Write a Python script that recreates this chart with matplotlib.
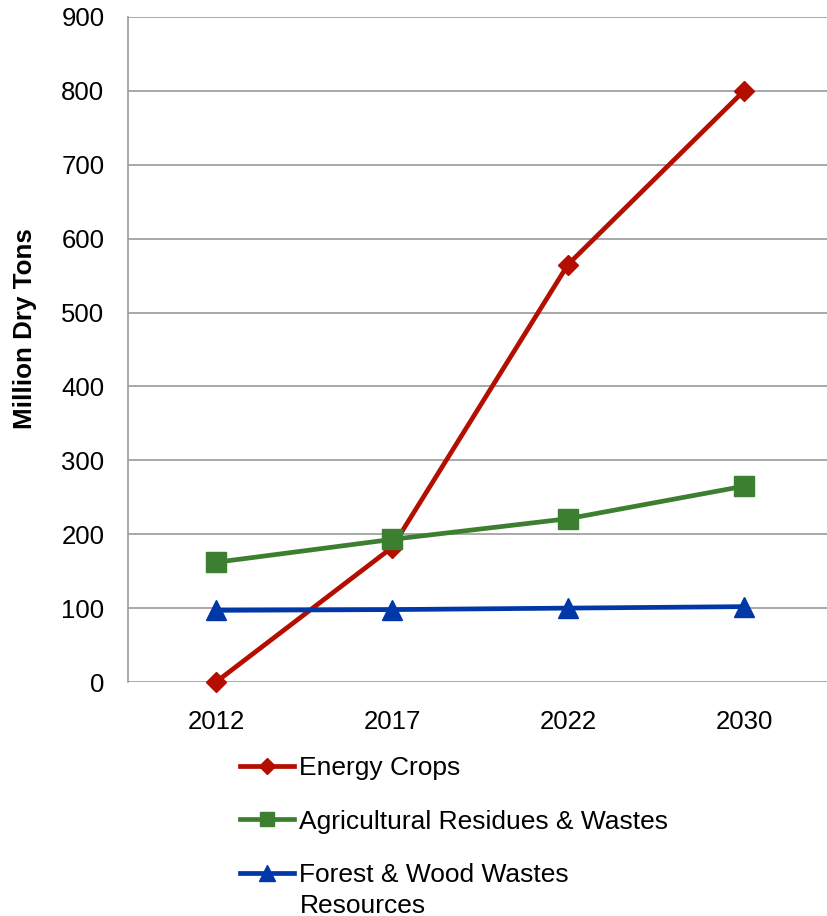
import matplotlib.pyplot as plt
from matplotlib.text import Annotation

plt.rcParams['font.family'] = ['Liberation Sans', 'DejaVu Sans']

years = ["2012", "2017", "2022", "2030"]
energy_crops = [0, 182, 565, 800]
ag_residues = [162, 193, 221, 265]
forest_wood = [97, 98, 100, 102]

series_labels = ["Energy Crops", "Agricultural Residues & Wastes", "Forest & Wood Wastes"]
y_ticks = [0, 100, 200, 300, 400, 500, 600, 700, 800, 900]

fig = plt.figure(figsize=(8.27, 9.16), dpi=100)
W, H = 827, 916
ax = fig.add_axes([128 / W, (H - 682) / H, (W - 128) / W, (682 - 17) / H])

x = range(len(years))
ax.plot(x, energy_crops, color="#B30E00", lw=3.4, marker="D", ms=10.5,
        label=series_labels[0], zorder=3, clip_on=False)
ax.plot(x, ag_residues, color="#3D7F31", lw=3.4, marker="s", ms=14,
        label=series_labels[1], zorder=3)
ax.plot(x, forest_wood, color="#0038A8", lw=3.4, marker="^", ms=14.5,
        label=series_labels[2], zorder=3)

ax.set_xlim(-0.5, (W - 216) / 176)
ax.set_ylim(0, 900)
ax.set_xticks(list(x))
ax.set_xticklabels(years)
ax.set_yticks(y_ticks)

ax.grid(axis="y", color="#9A9A9A", lw=1.2)
ax.set_axisbelow(True)
for s in ["top", "right", "bottom"]:
    ax.spines[s].set_visible(False)
ax.spines["left"].set_color("#9A9A9A")
ax.spines["left"].set_linewidth(1.2)
ax.tick_params(length=0, labelsize=18.5)
ax.tick_params(axis="y", pad=17)
ax.tick_params(axis="x", pad=20)

ax.set_ylabel("Million Dry Tons", fontsize=18.7, fontweight="bold")
ax.yaxis.set_label_coords(-0.13, 0.531)

leg = fig.legend(loc="upper left", bbox_to_anchor=(240 / W, 1 - 756 / H),
                 frameon=False, fontsize=19, handlelength=2.05,
                 handletextpad=0.2, labelspacing=1.12, borderpad=0,
                 borderaxespad=0)
for h in leg.legend_handles:
    h.set_markersize(h.get_markersize() * 0.75)

# second line of the last legend label, hung under its first line
extra = Annotation("Resources", xy=(0, 0), xycoords=leg.get_texts()[2],
                   xytext=(0, -5), textcoords="offset points", va="top",
                   fontsize=19)
extra.set_zorder(6)
fig.add_artist(extra)

fig.savefig("out.png", dpi=100)
